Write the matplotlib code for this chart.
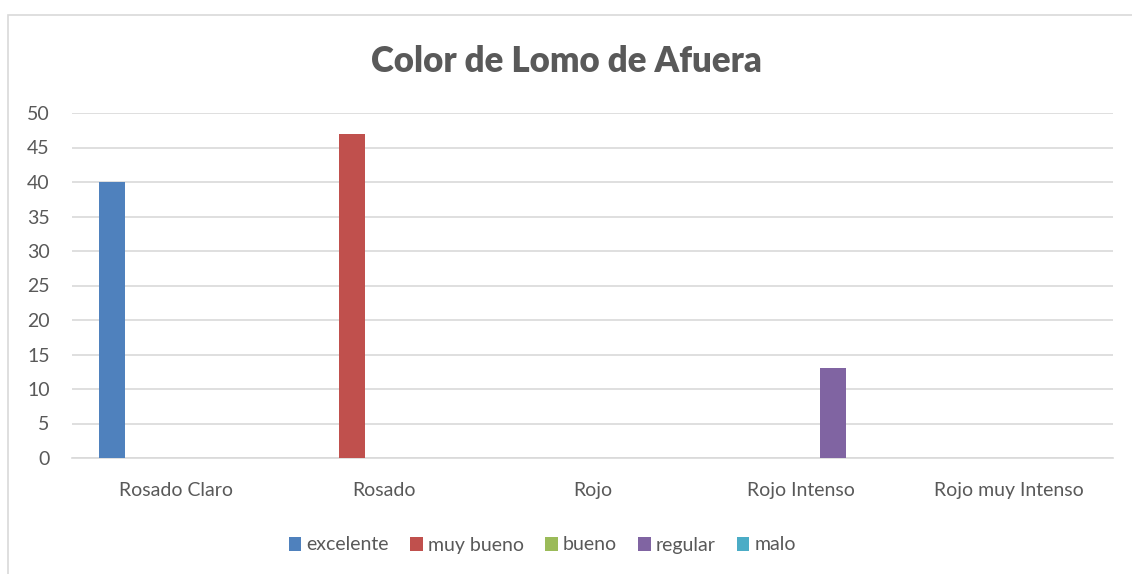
import numpy as np
import matplotlib.pyplot as plt
from matplotlib.patches import Rectangle

plt.rcParams['font.family'] = ['Lato', 'DejaVu Sans']

categorias = ['Rosado Claro', 'Rosado', 'Rojo', 'Rojo Intenso', 'Rojo muy Intenso']
series = ['excelente', 'muy bueno', 'bueno', 'regular', 'malo']
excelente = [40, 0, 0, 0, 0]
muy_bueno = [0, 47, 0, 0, 0]
bueno = [0, 0, 0, 0, 0]
regular = [0, 0, 0, 13, 0]
malo = [0, 0, 0, 0, 0]
valores = [excelente, muy_bueno, bueno, regular, malo]
colores = ['#4F81BD', '#C0504D', '#9BBB59', '#8064A2', '#4BACC6']

gris = '#595959'
fig = plt.figure(figsize=(11.32, 5.74), dpi=100)
ax = fig.add_axes([72/1132, 116/574, (1113-72)/1132, (461-116)/574])

x = np.arange(len(categorias))
paso = 0.154
ancho = 0.125
for k, (nombre, vals, c) in enumerate(zip(series, valores, colores)):
    ax.bar(x + (k-2)*paso, vals, width=ancho, color=c, label=nombre, zorder=3)

ax.set_xlim(-0.5, len(categorias)-0.5)
ax.set_ylim(0, 50)
ax.set_yticks(np.arange(0, 51, 5))
ax.set_xticks(x)
ax.set_xticklabels(categorias)
ax.yaxis.grid(True, color='#d9d9d9', linewidth=1.2, zorder=0)
ax.tick_params(axis='both', length=0, labelsize=14, colors=gris)
ax.tick_params(axis='x', pad=17)
ax.tick_params(axis='y', pad=16)
for lado in ['top', 'right', 'left']:
    ax.spines[lado].set_visible(False)
ax.spines['bottom'].set_color('#d9d9d9')
ax.spines['bottom'].set_linewidth(1.2)

fig.text(0.5, 1 - 61/574, 'Color de Lomo de Afuera', ha='center', va='center',
         fontsize=25, fontweight='heavy', color=gris)

fig.legend(loc='center', bbox_to_anchor=(0.479, 1 - 545/574), ncol=5, frameon=False,
           fontsize=14, labelcolor=gris, handlelength=0.65, handleheight=0.75,
           handletextpad=0.25, columnspacing=1.1)

# marco del grafico
fig.patches.append(Rectangle((8/1132, -0.1), 1.2, 1 - 15/574 + 0.1, transform=fig.transFigure,
                             fill=False, edgecolor='#d9d9d9', linewidth=1.2))

fig.savefig('out.png', dpi=100)
